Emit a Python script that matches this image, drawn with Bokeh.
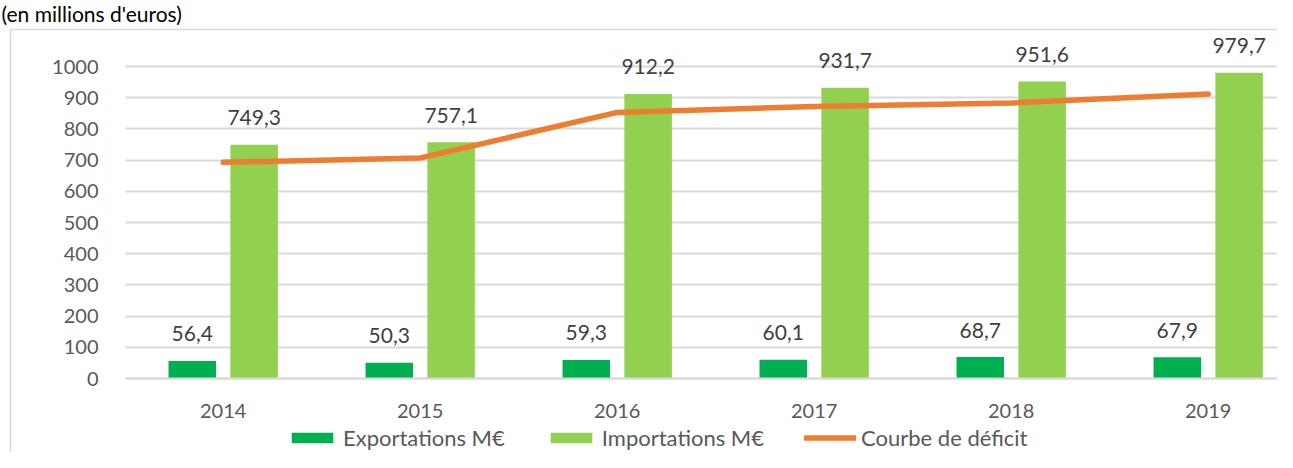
from bokeh.plotting import figure
from bokeh.models import (ColumnDataSource, FixedTicker, Legend, LegendItem, Label)
from bokeh.embed import file_html
from bokeh.resources import INLINE
from bokeh.core.properties import value

# ---- data ----
years = ["2014", "2015", "2016", "2017", "2018", "2019"]
exportations = [56.4, 50.3, 59.3, 60.1, 68.7, 67.9]
importations = [749.3, 757.1, 912.2, 931.7, 951.6, 979.7]
deficit = [692.9, 706.8, 852.9, 871.6, 882.9, 911.8]
y_ticks = [0, 100, 200, 300, 400, 500, 600, 700, 800, 900, 1000]
title_text = "(en millions d'euros)"
series_names = ["Exportations M€", "Importations M€", "Courbe de déficit"]

FONT = "Lato"
idx = list(range(len(years)))
fmt = lambda v: f"{v:.1f}".replace(".", ",")

src = ColumnDataSource(dict(
    i=idx,
    xe=[i - 0.157 for i in idx],
    xi=[i + 0.157 for i in idx],
    exp=exportations,
    imp=importations,
    def_=deficit,
    exp_lbl=[fmt(v) for v in exportations],
    imp_lbl=[fmt(v) for v in importations],
))

# ---- geometry (frame = whole canvas) ----
W, H = 1277, 452
PX_X, X0_PX = 197.0, 222.7          # px per category, px of first category
PX_Y, Y0_PX = 0.312, 378.0          # px per unit, px of value 0
PLOT_LEFT_PX = 125.0
BOX_LEFT_PX, BOX_TOP_PX = 10.0, 29.0
x_start = -X0_PX / PX_X
x_end = x_start + W / PX_X
y_end = Y0_PX / PX_Y
y_start = y_end - H / PX_Y
x_plot_left = x_start + PLOT_LEFT_PX / PX_X

p = figure(width=W, height=H, output_backend="svg", toolbar_location=None,
           x_range=(x_start, x_end), y_range=(y_start, y_end),
           min_border_left=0, min_border_right=0,
           min_border_top=0, min_border_bottom=0)
p.outline_line_color = None
p.background_fill_color = "white"
p.border_fill_color = "white"

# chart-area border (left and top visible; right/bottom fall outside the canvas)
p.quad(left=[x_start + BOX_LEFT_PX / PX_X], right=[x_end + 1],
       top=[y_end - BOX_TOP_PX / PX_Y], bottom=[y_start - 100],
       fill_color=None, line_color="#D9D9D9", line_width=1.5)

# grid lines starting at plot left
p.xgrid.grid_line_color = None
p.ygrid.ticker = FixedTicker(ticks=y_ticks)
if hasattr(p.ygrid[0], "cross_bounds"):
    p.ygrid.cross_bounds = (x_plot_left, x_end)
    p.ygrid.grid_line_color = "#D9D9D9"
    p.ygrid.grid_line_width = 2
else:
    p.ygrid.grid_line_color = None
    p.segment(x0=[x_plot_left] * len(y_ticks), x1=[x_end] * len(y_ticks),
              y0=y_ticks, y1=y_ticks, line_color="#D9D9D9", line_width=2)

r_exp = p.vbar(x="xe", top="exp", width=0.241, source=src,
               fill_color="#00B050", line_color=None)
r_imp = p.vbar(x="xi", top="imp", width=0.241, source=src,
               fill_color="#92D050", line_color=None)
r_def = p.line(x="i", y="def_", source=src, line_color="#ED7D31",
               line_width=5.5, line_cap="round", line_join="round")

lbl_kw = dict(text_font=value(FONT), text_font_size="21px", text_color="#404040",
              text_align="center", text_baseline="middle", y_offset=-27)
p.text(x="xe", y="exp", text="exp_lbl", source=src, **lbl_kw)
p.text(x="xi", y="imp", text="imp_lbl", source=src, **lbl_kw)

# axes drawn inside the frame
p.yaxis.fixed_location = x_plot_left
p.yaxis.ticker = FixedTicker(ticks=y_ticks)
p.yaxis.axis_line_color = None
p.yaxis.major_tick_line_color = None
p.yaxis.minor_tick_line_color = None
p.yaxis.major_label_standoff = 21
p.yaxis.major_label_text_font = FONT
p.yaxis.major_label_text_font_size = "20px"
p.yaxis.major_label_text_color = "#595959"

p.xaxis.fixed_location = 0
p.xaxis.bounds = (x_plot_left, x_end)
p.xaxis.ticker = FixedTicker(ticks=idx)
p.xaxis.major_label_overrides = {i: y for i, y in zip(idx, years)}
p.xaxis.axis_line_color = "#D9D9D9"
p.xaxis.axis_line_width = 2
p.xaxis.major_tick_line_color = None
p.xaxis.minor_tick_line_color = None
p.xaxis.major_label_standoff = 19
p.xaxis.major_label_text_font = FONT
p.xaxis.major_label_text_font_size = "20px"
p.xaxis.major_label_text_color = "#595959"

p.add_layout(Label(x=1, y=H, x_units="screen", y_units="screen",
                   text=title_text, text_font=FONT, text_font_size="21px",
                   text_color="#000000", text_baseline="top"))

legend = Legend(items=[LegendItem(label=series_names[0], renderers=[r_exp]),
                       LegendItem(label=series_names[1], renderers=[r_imp]),
                       LegendItem(label=series_names[2], renderers=[r_def])],
                orientation="horizontal", location=(286, 1),
                glyph_width=52, glyph_height=13, label_standoff=5, spacing=40,
                padding=0, margin=0, border_line_color=None,
                background_fill_alpha=0,
                label_text_font=FONT, label_text_font_size="22px",
                label_text_color="#595959")
p.add_layout(legend)

open("out.html", "w").write(file_html(p, INLINE))
